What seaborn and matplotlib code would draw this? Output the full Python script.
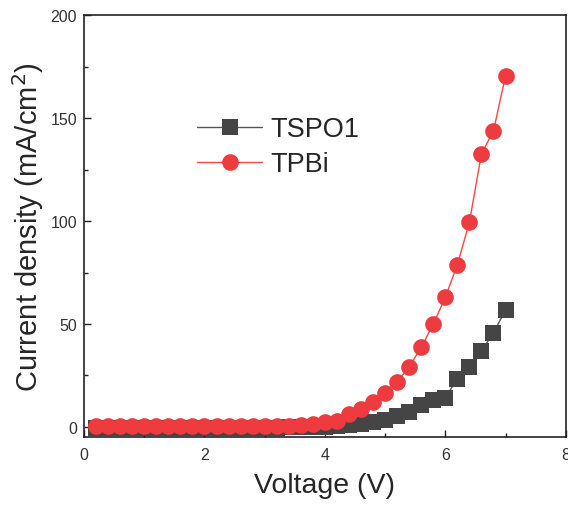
import matplotlib
matplotlib.use("Agg")
import matplotlib.pyplot as plt
import seaborn as sns
import numpy as np
import pandas as pd
from matplotlib.ticker import MultipleLocator

sns.set_style("ticks")
plt.rcParams['font.family'] = ['Liberation Sans', 'DejaVu Sans']

voltage = [0.2, 0.4, 0.6, 0.8, 1.0, 1.2, 1.4, 1.6, 1.8, 2.0, 2.2, 2.4, 2.6, 2.8, 3.0,
           3.2, 3.4, 3.6, 3.8, 4.0, 4.2, 4.4, 4.6, 4.8, 5.0, 5.2, 5.4, 5.6, 5.8, 6.0,
           6.2, 6.4, 6.6, 6.8, 7.0]
tspo1 = [-0.3, -0.3, -0.3, -0.3, -0.3, -0.3, -0.3, -0.3, -0.3, -0.3, -0.3, -0.3, -0.3, -0.3, -0.3,
         -0.3, -0.2, -0.1, 0.0, 0.1, 0.4, 0.9, 1.6, 2.4, 3.3, 5.1, 7.4, 10.4, 13.2, 14.2,
         23.4, 29.3, 36.8, 45.8, 56.7]
tpbi = [0.4, 0.4, 0.4, 0.4, 0.4, 0.4, 0.4, 0.4, 0.4, 0.4, 0.4, 0.4, 0.4, 0.4, 0.4,
        0.5, 0.5, 0.7, 1.3, 2.4, 2.9, 6.5, 8.9, 12.3, 16.7, 21.6, 29.3, 38.6, 49.9, 62.9,
        78.8, 99.4, 132.6, 143.8, 170.5]
series_names = ["TSPO1", "TPBi"]

df = pd.DataFrame({
    "Voltage": voltage * 2,
    "J": tspo1 + tpbi,
    "Device": [series_names[0]] * len(voltage) + [series_names[1]] * len(voltage),
})

fig = plt.figure(figsize=(5.68, 5.06), dpi=100)
ax = fig.add_axes([0.148, 0.134, 0.848, 0.834])

line_colors = {"TSPO1": "#555555", "TPBi": "#F04848"}
marker_colors = {"TSPO1": "#454545", "TPBi": "#EE3B3F"}
markers = {"TSPO1": "s", "TPBi": "o"}
sizes = {"TSPO1": 11, "TPBi": 12}

for name in series_names:
    sub = df[df["Device"] == name]
    sns.lineplot(data=sub, x="Voltage", y="J", ax=ax, color=line_colors[name],
                 linewidth=1.0, marker=markers[name], markersize=sizes[name],
                 markerfacecolor=marker_colors[name], markeredgecolor=marker_colors[name],
                 markeredgewidth=0, label=name, legend=False)

ax.set_xlim(0, 8)
ax.set_ylim(-5, 200)
ax.xaxis.set_major_locator(MultipleLocator(2))
ax.xaxis.set_minor_locator(MultipleLocator(1))
ax.yaxis.set_major_locator(MultipleLocator(50))
ax.yaxis.set_minor_locator(MultipleLocator(25))
ax.tick_params(which="both", direction="in", top=False, right=False,
               labelsize=11.5, labelcolor="#333333", color="#222222", width=1.0)
ax.tick_params(which="major", length=5)
ax.tick_params(which="minor", length=3)
ax.tick_params(axis="x", which="major", pad=7)
ax.tick_params(axis="y", which="major", pad=5)
for s in ax.spines.values():
    s.set_linewidth(1.2)
    s.set_color("#222222")

ax.set_xlabel("Voltage (V)", fontsize=20.5, labelpad=7)
ax.set_ylabel("Current density (mA/cm$^2$)", fontsize=21, labelpad=3)

leg = ax.legend(loc="upper left", bbox_to_anchor=(0.213, 0.786), frameon=False,
                fontsize=19.5, handlelength=2.4, handletextpad=0.3, labelspacing=0.33,
                borderaxespad=0)

fig.savefig("out.png", dpi=100)
